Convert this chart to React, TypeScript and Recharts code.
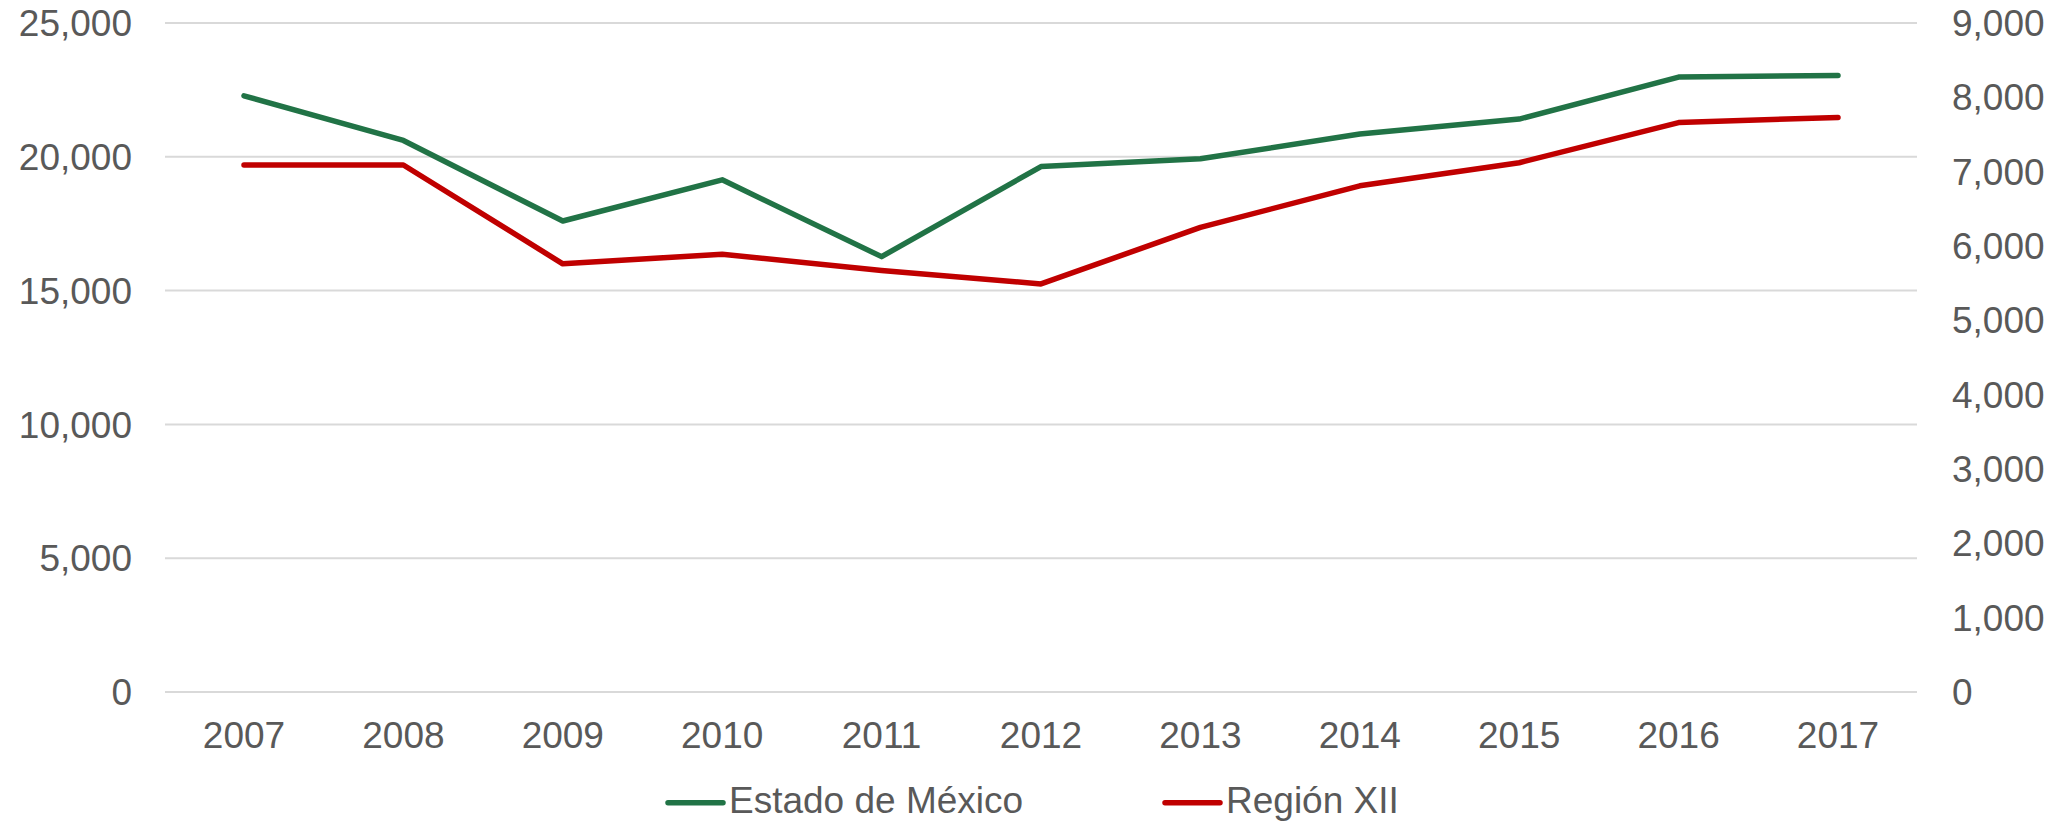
import React from 'react';
import { LineChart, Line, XAxis, YAxis, CartesianGrid, Legend } from 'recharts';

const years = ['2007', '2008', '2009', '2010', '2011', '2012', '2013', '2014', '2015', '2016', '2017'];
const estadoMexico = [22280, 20610, 17600, 19140, 16270, 19635, 19925, 20850, 21410, 22980, 23040];
const regionXII = [7090, 7090, 5760, 5890, 5670, 5490, 6250, 6810, 7120, 7660, 7730];
const leftTicks = [0, 5000, 10000, 15000, 20000, 25000];
const rightTicks = [0, 1000, 2000, 3000, 4000, 5000, 6000, 7000, 8000, 9000];
const seriesNames = ['Estado de México', 'Región XII'];
const seriesColors = ['#217346', '#C00000'];

const data = years.map((y, i) => ({ year: y, estado: estadoMexico[i], region: regionXII[i] }));

const FONT = '"Liberation Sans", Arial, sans-serif';
const TEXT = '#595959';
const tickStyle = { fill: TEXT, fontSize: 37, fontFamily: FONT };
const fmt = (v: number) => v.toLocaleString('en-US');
const LINE_W = 5.5;

const LegendContent = () => (
  <svg width={2066} height={63} style={{ display: 'block' }}>
    <line x1={668} x2={723} y1={40.7} y2={40.7} stroke={seriesColors[0]} strokeWidth={LINE_W} strokeLinecap="round" />
    <text x={729} y={51} fontSize={37} fontFamily={FONT} fill={TEXT}>{seriesNames[0]}</text>
    <line x1={1165} x2={1220} y1={40.7} y2={40.7} stroke={seriesColors[1]} strokeWidth={LINE_W} strokeLinecap="round" />
    <text x={1226} y={51} fontSize={37} fontFamily={FONT} fill={TEXT}>{seriesNames[1]}</text>
  </svg>
);

export default function App() {
  return (
    <div style={{ position: 'absolute', left: 0, top: 0, width: 2066, height: 825, background: '#fff' }}>
      <LineChart width={2066} height={825} data={data} margin={{ top: 23, right: 0, bottom: 0, left: 0 }}>
        <CartesianGrid yAxisId="left" vertical={false} stroke="#D9D9D9" strokeWidth={2} />
        <XAxis
          dataKey="year"
          height={70}
          padding={{ left: 79, right: 79 }}
          axisLine={false}
          tickLine={false}
          tickSize={0}
          tickMargin={30}
          tick={tickStyle}
          interval={0}
        />
        <YAxis
          yAxisId="left"
          orientation="left"
          width={165}
          domain={[0, 25000]}
          ticks={leftTicks}
          tickFormatter={fmt}
          axisLine={false}
          tickLine={false}
          tickSize={0}
          tickMargin={33}
          tick={tickStyle}
        />
        <YAxis
          yAxisId="right"
          orientation="right"
          width={149}
          domain={[0, 9000]}
          ticks={rightTicks}
          tickFormatter={fmt}
          axisLine={false}
          tickLine={false}
          tickSize={0}
          tickMargin={35}
          tick={{ ...tickStyle, textAnchor: 'start' }}
        />
        <Legend
          verticalAlign="bottom"
          height={63}
          content={<LegendContent />}
          wrapperStyle={{ left: 0, bottom: 0, width: 2066, height: 63 }}
        />
        <Line
          yAxisId="left"
          type="linear"
          dataKey="estado"
          name={seriesNames[0]}
          stroke={seriesColors[0]}
          strokeWidth={LINE_W}
          strokeLinecap="round"
          strokeLinejoin="round"
          dot={false}
          activeDot={false}
          isAnimationActive={false}
        />
        <Line
          yAxisId="right"
          type="linear"
          dataKey="region"
          name={seriesNames[1]}
          stroke={seriesColors[1]}
          strokeWidth={LINE_W}
          strokeLinecap="round"
          strokeLinejoin="round"
          dot={false}
          activeDot={false}
          isAnimationActive={false}
        />
      </LineChart>
    </div>
  );
}
